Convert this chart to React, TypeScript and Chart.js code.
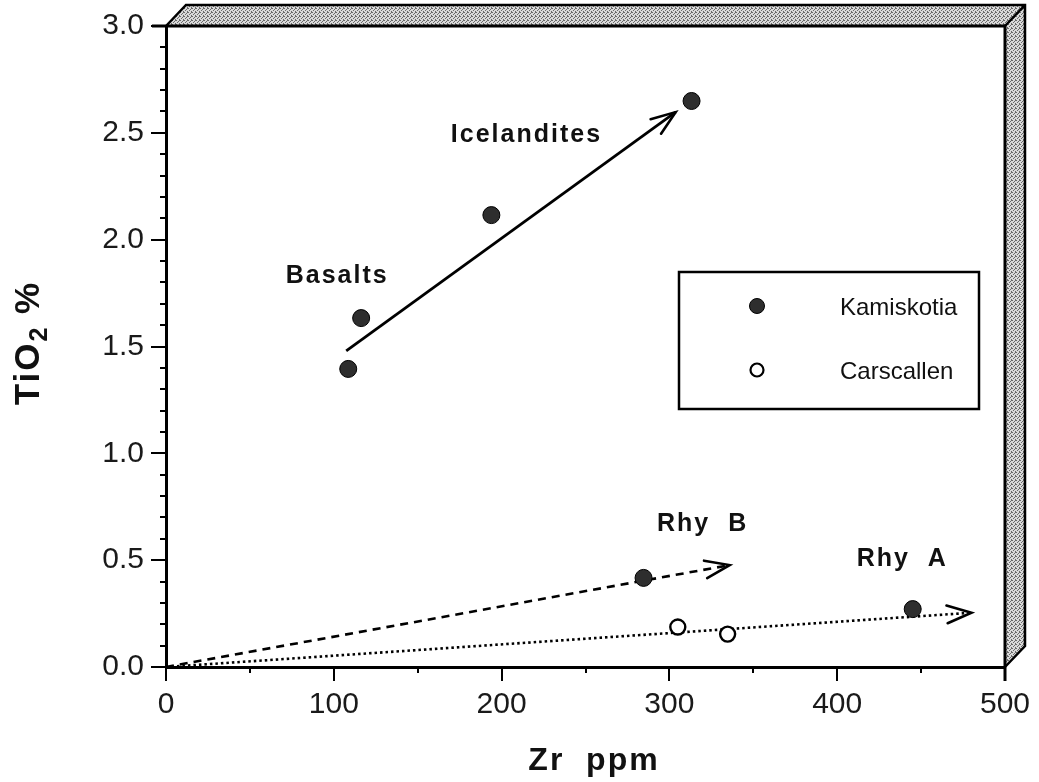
import React, { useEffect, useRef } from 'react';
import { Chart, registerables } from 'chart.js';

Chart.register(...registerables);

// ---- data ----
const kamiskotiaZr = [108.6, 116.3, 193.9, 313.2, 284.6, 445];
const kamiskotiaTiO2 = [1.395, 1.633, 2.115, 2.649, 0.417, 0.271];
const carscallenZr = [305, 334.7];
const carscallenTiO2 = [0.187, 0.154];

// trend arrows (start -> tip)
const icelanditeTrendZr = [107.4, 303.7];
const icelanditeTrendTiO2 = [1.479, 2.597];
const rhyBTrendZr = [0, 335.9];
const rhyBTrendTiO2 = [0, 0.477];
const rhyATrendZr = [0, 480];
const rhyATrendTiO2 = [0, 0.254];

// tick values
const xMajorTicks = [0, 100, 200, 300, 400, 500];
const xMinorTicks = [50, 150, 250, 350, 450];
const yMajorTicks = [0, 0.5, 1.0, 1.5, 2.0, 2.5, 3.0];
const yMinorTicks = [
  0.1, 0.2, 0.3, 0.4, 0.6, 0.7, 0.8, 0.9, 1.1, 1.2, 1.3, 1.4, 1.6, 1.7, 1.8, 1.9,
  2.1, 2.2, 2.3, 2.4, 2.6, 2.7, 2.8, 2.9,
];

// annotation texts and anchors (data units, baseline-centred)
const annotationTexts = ['Basalts', 'Icelandites', 'Rhy  B', 'Rhy  A'];
const annotationZr = [102.0, 214.8, 319.8, 438.8];
const annotationTiO2 = [1.795, 2.457, 0.6365, 0.473];

const legendLabels = ['Kamiskotia', 'Carscallen'];
const xTitle = 'Zr  ppm';

const FONT = '"Liberation Sans", Arial, Helvetica, sans-serif';

function zip(xs: number[], ys: number[]) {
  return xs.map((x, i) => ({ x, y: ys[i] }));
}

function makeStipple(): CanvasPattern | string {
  const c = document.createElement('canvas');
  c.width = 4;
  c.height = 4;
  const g = c.getContext('2d');
  if (!g) return '#b0b0b0';
  g.fillStyle = '#d9d9d9';
  g.fillRect(0, 0, 4, 4);
  g.fillStyle = '#6a6a6a';
  g.fillRect(0, 0, 1, 1);
  g.fillRect(2, 1, 1, 1);
  g.fillRect(1, 2, 1, 1);
  g.fillRect(3, 3, 1, 1);
  g.fillRect(3, 0, 1, 1);
  const p = g.createPattern(c, 'repeat');
  return p || '#b0b0b0';
}

function zeroPadding(s: any) {
  s.paddingLeft = 0;
  s.paddingRight = 0;
  s.paddingTop = 0;
  s.paddingBottom = 0;
}

const decorPlugin = {
  id: 'decor',
  afterDatasetsDraw(chart: any) {
    const ctx: CanvasRenderingContext2D = chart.ctx;
    // arrowheads on trend lines
    chart.data.datasets.forEach((ds: any, i: number) => {
      if (!ds.arrow) return;
      const meta = chart.getDatasetMeta(i);
      const pts = meta.data;
      if (pts.length < 2) return;
      const a = pts[pts.length - 2];
      const b = pts[pts.length - 1];
      const ang = Math.atan2(b.y - a.y, b.x - a.x);
      const len = 26;
      const spread = (20 * Math.PI) / 180;
      ctx.save();
      ctx.strokeStyle = '#000';
      ctx.lineWidth = 2.6;
      ctx.setLineDash([]);
      ctx.lineCap = 'round';
      ctx.beginPath();
      ctx.moveTo(b.x - len * Math.cos(ang - spread), b.y - len * Math.sin(ang - spread));
      ctx.lineTo(b.x, b.y);
      ctx.lineTo(b.x - len * Math.cos(ang + spread), b.y - len * Math.sin(ang + spread));
      ctx.stroke();
      ctx.restore();
    });
  },
  afterDraw(chart: any) {
    const ctx: CanvasRenderingContext2D = chart.ctx;
    const { left, right, top, bottom } = chart.chartArea;
    const xs = chart.scales.x;
    const ys = chart.scales.y;
    const dx = 20;
    const dy = 21;

    ctx.save();
    // 3D frame bands
    const fill = makeStipple();
    ctx.fillStyle = fill as any;
    ctx.beginPath();
    ctx.moveTo(left, top);
    ctx.lineTo(left + dx, top - dy);
    ctx.lineTo(right + dx, top - dy);
    ctx.lineTo(right + dx, bottom - dy);
    ctx.lineTo(right, bottom);
    ctx.lineTo(right, top);
    ctx.closePath();
    ctx.fill();

    ctx.strokeStyle = '#000';
    ctx.lineWidth = 2.5;
    ctx.lineJoin = 'miter';
    ctx.beginPath();
    ctx.moveTo(left, top);
    ctx.lineTo(left + dx, top - dy);
    ctx.lineTo(right + dx, top - dy);
    ctx.lineTo(right + dx, bottom - dy);
    ctx.lineTo(right, bottom);
    ctx.moveTo(right, top);
    ctx.lineTo(right + dx, top - dy);
    ctx.stroke();

    // plot top & right edges
    ctx.lineWidth = 3;
    ctx.beginPath();
    ctx.moveTo(left - 14, top);
    ctx.lineTo(right, top);
    ctx.lineTo(right, bottom + 14);
    ctx.stroke();

    // ticks
    ctx.lineWidth = 2;
    ctx.beginPath();
    yMajorTicks.forEach((v) => {
      const y = Math.round(ys.getPixelForValue(v));
      ctx.moveTo(left - 15, y);
      ctx.lineTo(left, y);
    });
    yMinorTicks.forEach((v) => {
      const y = Math.round(ys.getPixelForValue(v));
      ctx.moveTo(left - 6, y);
      ctx.lineTo(left, y);
    });
    xMajorTicks.forEach((v) => {
      const x = Math.round(xs.getPixelForValue(v));
      ctx.moveTo(x, bottom);
      ctx.lineTo(x, bottom + 14);
    });
    xMinorTicks.forEach((v) => {
      const x = Math.round(xs.getPixelForValue(v));
      ctx.moveTo(x, bottom);
      ctx.lineTo(x, bottom + 6);
    });
    ctx.stroke();

    // annotations
    ctx.fillStyle = '#111';
    ctx.font = `bold 25px ${FONT}`;
    (ctx as any).letterSpacing = '2px';
    ctx.textAlign = 'center';
    ctx.textBaseline = 'alphabetic';
    annotationTexts.forEach((t, i) => {
      ctx.fillText(t, xs.getPixelForValue(annotationZr[i]), ys.getPixelForValue(annotationTiO2[i]));
    });

    // legend box
    const lx = 679, ly = 272, lw = 300, lh = 137;
    ctx.fillStyle = '#fff';
    ctx.fillRect(lx, ly, lw, lh);
    ctx.strokeStyle = '#000';
    ctx.lineWidth = 2.5;
    ctx.strokeRect(lx, ly, lw, lh);
    // legend markers
    ctx.beginPath();
    ctx.arc(757, 306, 7.5, 0, Math.PI * 2);
    ctx.fillStyle = '#2e2e2e';
    ctx.fill();
    ctx.lineWidth = 1;
    ctx.stroke();
    ctx.beginPath();
    ctx.arc(757, 370, 6.5, 0, Math.PI * 2);
    ctx.fillStyle = '#fff';
    ctx.fill();
    ctx.lineWidth = 2.2;
    ctx.stroke();
    ctx.fillStyle = '#111';
    ctx.font = `24px ${FONT}`;
    (ctx as any).letterSpacing = '0px';
    ctx.textAlign = 'left';
    ctx.fillText(legendLabels[0], 840, 315);
    ctx.fillText(legendLabels[1], 840, 379);

    // x title
    ctx.font = `bold 32px ${FONT}`;
    (ctx as any).letterSpacing = '2px';
    ctx.textAlign = 'center';
    ctx.fillText(xTitle, 594, 770);

    // y title (rotated, with subscript)
    ctx.translate(39, 343);
    ctx.rotate(-Math.PI / 2);
    ctx.textAlign = 'left';
    const big = `bold 35px ${FONT}`;
    const small = `bold 25px ${FONT}`;
    ctx.font = big;
    const w1 = ctx.measureText('TiO').width;
    const w3 = ctx.measureText(' %').width;
    ctx.font = small;
    const w2 = ctx.measureText('2').width;
    let x0 = -(w1 + w2 + w3) / 2;
    ctx.font = big;
    ctx.fillText('TiO', x0, 0);
    x0 += w1;
    ctx.font = small;
    ctx.fillText('2', x0, 8);
    x0 += w2;
    ctx.font = big;
    ctx.fillText(' %', x0, 0);
    ctx.restore();
  },
};

export default function App() {
  const ref = useRef<HTMLCanvasElement | null>(null);

  useEffect(() => {
    const canvas = ref.current;
    if (!canvas) return;
    const tickFont = { family: FONT, size: 30 };
    const chart = new Chart(canvas, {
      type: 'scatter',
      data: {
        datasets: [
          {
            label: legendLabels[0],
            data: zip(kamiskotiaZr, kamiskotiaTiO2),
            pointRadius: 8.5,
            pointBackgroundColor: '#2e2e2e',
            pointBorderColor: '#000',
            pointBorderWidth: 1,
            showLine: false,
          },
          {
            label: legendLabels[1],
            data: zip(carscallenZr, carscallenTiO2),
            pointRadius: 7.5,
            pointBackgroundColor: '#fff',
            pointBorderColor: '#000',
            pointBorderWidth: 2.4,
            showLine: false,
          },
          {
            label: 'Basalt–Icelandite trend',
            data: zip(icelanditeTrendZr, icelanditeTrendTiO2),
            showLine: true,
            pointRadius: 0,
            borderColor: '#000',
            borderWidth: 2.8,
            arrow: true,
          } as any,
          {
            label: 'Rhy B trend',
            data: zip(rhyBTrendZr, rhyBTrendTiO2),
            showLine: true,
            pointRadius: 0,
            borderColor: '#000',
            borderWidth: 2.6,
            borderDash: [8, 6],
            arrow: true,
          } as any,
          {
            label: 'Rhy A trend',
            data: zip(rhyATrendZr, rhyATrendTiO2),
            showLine: true,
            pointRadius: 0,
            borderColor: '#000',
            borderWidth: 2.6,
            borderDash: [2.5, 3],
            arrow: true,
          } as any,
        ],
      },
      options: {
        responsive: false,
        animation: false,
        devicePixelRatio: 1,
        events: [],
        layout: { padding: { left: 0, top: 26, right: 34, bottom: 0 } },
        plugins: {
          legend: { display: false },
          tooltip: { enabled: false },
          title: { display: false },
        },
        scales: {
          x: {
            type: 'linear',
            min: 0,
            max: 500,
            afterFit: (s: any) => {
              s.height = 115;
              zeroPadding(s);
            },
            afterBuildTicks: (s: any) => {
              s.ticks = xMajorTicks.map((v) => ({ value: v }));
            },
            grid: { display: false, drawTicks: false },
            border: { display: true, color: '#000', width: 3 },
            ticks: {
              font: tickFont,
              color: '#1a1a1a',
              padding: 20,
              maxRotation: 0,
              autoSkip: false,
              callback: (v: any) => String(v),
            },
          },
          y: {
            type: 'linear',
            min: 0,
            max: 3,
            afterFit: (s: any) => {
              s.width = 166;
              zeroPadding(s);
            },
            afterBuildTicks: (s: any) => {
              s.ticks = yMajorTicks.map((v) => ({ value: v }));
            },
            grid: { display: false, drawTicks: false },
            border: { display: true, color: '#000', width: 3 },
            ticks: {
              font: tickFont,
              color: '#1a1a1a',
              padding: 22,
              autoSkip: false,
              callback: (v: any) => Number(v).toFixed(1),
            },
          },
        },
      },
      plugins: [decorPlugin],
    } as any);
    return () => chart.destroy();
  }, []);

  return (
    <div style={{ position: 'absolute', left: 0, top: 0, width: 1039, height: 782, background: '#fff' }}>
      <canvas ref={ref} width={1039} height={782} style={{ display: 'block', width: 1039, height: 782 }} />
    </div>
  );
}
